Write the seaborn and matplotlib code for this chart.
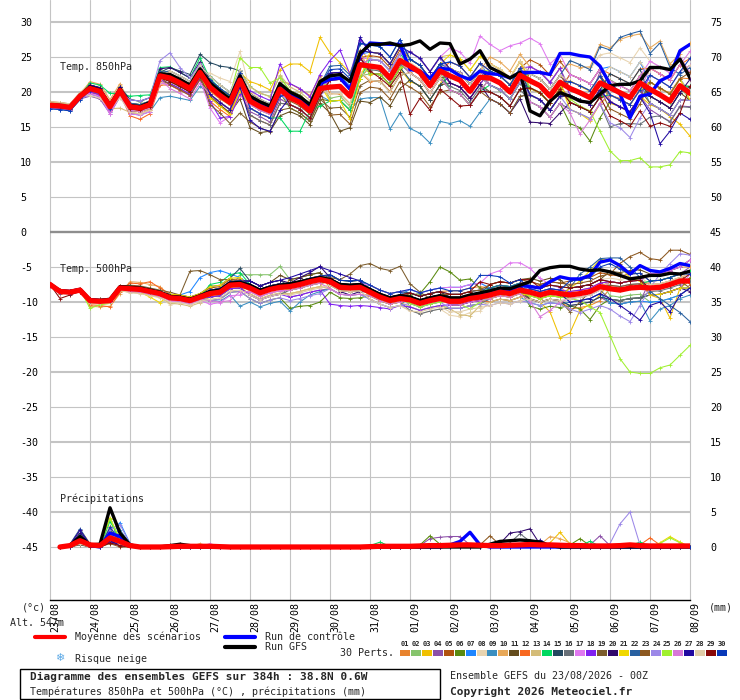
import matplotlib
matplotlib.use("Agg")
import matplotlib.pyplot as plt
import numpy as np
import pandas as pd
import seaborn as sns
from matplotlib.patches import Rectangle
from matplotlib.lines import Line2D
from matplotlib.transforms import ScaledTranslation

# ---------------- data ----------------
hours = list(range(0, 385, 6))
day_hours = list(range(0, 385, 24))
day_labels = ["23/08", "24/08", "25/08", "26/08", "27/08", "28/08", "29/08", "30/08", "31/08",
              "01/09", "02/09", "03/09", "04/09", "05/09", "06/09", "07/09", "08/09"]

pert_names = ["%02d" % k for k in range(1, 31)]
pert_colors = ["#E8832E", "#86C46C", "#F0C000", "#8C50A8", "#B0520E", "#5A8A10", "#1E86FF", "#E8D4B0",
               "#3A8EC0", "#E8A858", "#644C1C", "#F86820", "#D4BC78", "#00D860", "#244860", "#687078",
               "#E078F0", "#8020F0", "#7C5C2C", "#30086C", "#F0D800", "#2860A0", "#8C5820", "#9C88E8",
               "#A0F030", "#D878D8", "#2008A0", "#E0CCA8", "#880808", "#0838B8"]

t850_mean = [18.1, 18.0, 17.8, 19.4, 20.5, 20.1, 17.9, 20.2, 17.9, 17.7, 18.2, 22.3, 22.0, 21.3, 20.5, 22.8,
             20.7, 19.5, 18.5, 21.7, 18.7, 17.9, 17.3, 20.4, 19.2, 18.5, 17.3, 20.5, 20.7, 20.8, 19.4, 23.9,
             23.7, 23.5, 22.0, 24.5, 23.7, 22.8, 20.9, 23.0, 22.3, 21.7, 20.1, 22.1, 22.0, 21.3, 20.0, 22.4,
             21.6, 20.9, 19.4, 21.4, 20.5, 19.9, 19.2, 21.3, 20.6, 19.9, 19.2, 21.3, 20.4, 19.6, 18.7, 20.9, 19.8]
t850_ctrl = [18.0, 17.9, 17.7, 19.3, 20.6, 20.2, 17.8, 20.3, 18.0, 17.8, 18.3, 22.4, 22.3, 21.6, 20.8, 23.1,
             21.2, 20.0, 18.8, 22.2, 19.2, 18.2, 17.5, 20.8, 19.8, 19.0, 17.8, 21.2, 21.8, 22.0, 20.4, 25.2,
             27.0, 26.9, 26.8, 26.8, 23.2, 23.0, 22.0, 23.4, 23.2, 22.3, 21.8, 23.0, 22.6, 22.5, 22.0, 22.8,
             22.8, 22.8, 22.5, 25.5, 25.5, 25.2, 25.0, 23.7, 21.1, 19.7, 16.3, 19.4, 19.7, 21.6, 22.3, 25.9, 26.8]
t850_gfs = [18.2, 18.1, 17.8, 19.5, 20.7, 20.3, 18.0, 20.4, 18.1, 17.9, 18.5, 22.6, 22.5, 21.8, 21.0, 23.3,
            21.3, 20.1, 19.0, 22.3, 19.4, 18.6, 18.0, 21.2, 20.0, 19.3, 18.2, 21.5, 22.3, 22.5, 21.5, 25.5,
            26.8, 26.8, 27.0, 26.6, 26.8, 27.3, 26.1, 27.0, 26.9, 24.0, 24.7, 25.9, 23.5, 22.8, 22.0, 22.8,
            17.3, 16.6, 18.7, 19.9, 19.4, 18.7, 18.5, 19.7, 20.9, 21.1, 21.1, 21.6, 23.5, 23.5, 23.2, 24.7, 22.0]
t850_perts = [
    [18.4,18.3,18.0,19.6,20.0,19.5,17.3,19.8,17.0,16.9,17.5,21.4,21.0,20.2,19.6,21.8,20.1,19.0,18.1,21.3,19.8,19.0,18.2,21.5,21.2,20.4,19.5,22.3,19.8,19.7,18.3,22.8,21.5,21.6,20.1,22.4,22.8,21.7,19.8,22.1,23.4,22.6,21.2,23.0,24.1,23.2,22.0,24.3,21.8,20.7,19.3,21.2,18.6,17.8,17.3,19.2,19.5,19.1,18.1,20.4,21.5,20.4,19.9,22.0,21.9],
    [18.0,18.1,17.7,19.5,21.0,20.5,18.5,20.8,19.0,18.6,19.2,23.1,22.4,21.9,21.0,23.2,22.3,21.0,20.0,23.1,20.8,19.8,19.4,22.3,20.1,19.6,18.2,21.6,19.1,19.4,17.9,22.3,22.6,22.6,21.0,23.4,24.6,23.8,22.0,24.0,22.2,21.8,20.0,22.3,21.0,20.2,19.1,21.3,19.5,18.9,17.5,19.3,19.6,18.8,18.3,20.2,21.7,21.0,20.1,22.4,20.3,19.7,18.5,20.8,18.8],
    [18.3,18.2,18.0,19.7,20.2,19.8,17.6,19.9,17.4,17.2,17.8,21.7,22.1,21.2,20.6,22.9,21.8,20.4,19.6,22.7,21.5,21.0,20.3,23.2,24.0,24.0,22.9,27.8,25.6,24.2,22.8,26.0,22.5,22.6,21.0,23.3,21.5,20.9,18.8,21.1,23.4,22.6,21.2,23.0,22.1,21.2,20.2,22.3,20.5,19.8,18.4,20.6,21.6,20.8,20.1,22.3,18.4,17.9,17.0,19.4,18.2,17.6,16.5,15.4,13.7],
    [17.8,17.6,17.5,19.0,19.4,19.0,16.9,19.3,17.3,17.3,17.7,21.9,22.6,21.7,21.0,23.3,19.6,18.6,17.4,20.8,17.2,16.5,15.7,19.0,18.2,17.6,16.2,19.6,20.9,20.7,19.5,24.0,24.6,24.5,23.1,25.4,25.8,24.7,22.9,24.9,23.2,22.8,21.1,23.0,21.0,20.4,19.0,21.3,23.7,22.8,21.3,23.4,20.4,20.0,19.1,22.9,18.7,17.8,17.2,19.4,17.5,16.6,15.8,18.0,17.9],
    [18.6,18.5,18.3,19.9,20.8,20.4,18.2,20.5,17.7,17.5,18.0,22.1,21.5,20.8,20.0,22.3,19.2,18.0,17.0,20.2,16.7,15.9,15.3,18.4,18.2,17.5,16.3,19.5,21.7,21.8,20.4,24.9,25.2,25.0,23.5,26.0,23.7,22.8,20.9,23.0,21.3,20.7,19.1,21.1,23.0,22.3,21.0,23.4,24.6,23.9,22.4,24.4,22.5,21.9,21.2,23.3,21.6,20.9,20.2,22.3,23.4,22.6,21.7,23.9,22.8],
    [17.9,17.8,17.6,19.2,21.0,20.6,18.4,20.7,18.2,18.0,18.5,22.6,21.7,21.0,20.2,22.5,21.2,20.0,19.0,22.2,18.2,17.4,16.8,19.9,17.7,17.0,15.8,19.0,18.7,18.8,17.4,21.9,23.7,23.5,22.0,24.5,22.7,21.8,19.9,22.0,20.3,19.7,18.1,20.1,22.0,21.3,20.0,22.4,18.6,17.9,16.4,18.4,15.5,14.9,13.0,16.3,18.6,17.9,17.2,19.3,20.4,19.6,18.7,20.9,20.8],
    [17.7,17.6,17.4,19.0,19.7,19.3,17.1,19.4,17.6,17.4,17.9,22.0,22.2,21.5,20.7,23.0,21.7,20.5,19.5,22.7,19.2,18.4,17.8,20.9,19.7,19.0,17.8,21.0,22.2,22.3,20.9,25.4,25.7,25.5,24.0,26.5,24.7,23.8,21.9,24.0,24.3,23.7,22.1,24.1,22.0,21.3,20.0,22.4,20.6,19.9,18.4,20.4,22.5,21.9,21.2,23.3,23.6,22.9,22.2,24.3,21.4,20.6,19.7,21.9,19.8],
    [18.6,18.5,18.3,19.9,21.3,20.9,18.7,21.0,18.4,18.2,18.7,22.8,22.0,21.3,20.5,22.8,22.7,22.0,21.5,25.8,20.2,19.0,18.3,21.4,19.2,18.5,17.3,20.5,19.7,19.8,18.4,22.9,23.2,23.0,21.5,24.0,24.2,23.3,21.4,23.5,24.3,23.7,22.1,24.1,23.0,22.3,21.0,23.4,22.6,21.9,20.4,22.4,24.5,23.9,23.2,25.3,25.6,24.9,24.2,26.3,24.4,23.6,22.7,24.9,22.8],
    [17.6,17.5,17.3,18.9,20.0,19.6,17.4,19.7,16.9,16.7,17.2,19.2,19.4,19.1,18.8,20.8,19.7,18.5,17.5,20.7,18.7,17.9,17.3,20.4,18.2,17.5,16.3,19.5,18.7,18.8,17.4,19.0,19.2,19.2,14.7,17.0,14.8,14.1,12.7,15.8,15.5,15.9,15.1,17.1,19.0,18.3,17.0,19.4,19.6,18.9,17.4,19.4,19.5,18.9,18.2,20.3,20.6,19.9,19.2,21.3,18.4,17.6,16.7,18.9,18.8],
    [18.3,18.2,18.0,19.6,21.5,21.1,18.9,21.2,18.4,18.2,18.7,22.8,23.0,22.3,21.5,23.8,20.7,19.5,18.5,21.7,17.7,16.9,16.3,19.4,20.2,19.5,18.3,21.5,22.7,22.8,21.4,25.9,24.7,24.5,23.0,25.5,25.7,24.8,22.9,25.0,23.3,22.7,21.1,23.1,25.0,24.3,23.0,25.4,23.6,22.9,21.4,23.4,24.0,23.5,23.6,26.8,26.3,27.5,28.0,28.3,26.3,27.3,24.0,25.5,27.0],
    [18.0,17.9,17.6,19.2,20.1,19.7,17.5,19.8,17.4,17.2,17.7,21.6,21.2,20.5,19.6,21.9,19.4,18.2,17.0,19.0,14.9,14.2,14.4,16.6,17.2,16.6,15.3,18.4,17.0,14.4,14.9,18.7,18.5,19.3,18.0,20.5,21.7,20.8,18.9,21.0,21.3,20.7,19.1,21.1,20.0,19.3,18.0,20.4,20.6,19.9,18.4,20.4,21.5,20.9,20.2,22.3,20.6,19.9,19.2,21.3,19.4,18.6,17.7,19.9,18.8],
    [17.8,17.7,17.5,19.1,20.0,19.6,17.4,19.7,16.6,16.1,16.9,21.0,21.0,20.3,19.5,21.8,18.7,17.5,16.5,19.7,17.7,16.9,16.3,19.4,20.2,19.5,18.3,21.5,20.7,20.8,19.4,23.9,22.7,22.5,21.0,23.5,23.7,22.8,20.9,23.0,24.3,23.7,22.1,24.1,23.0,22.3,21.0,23.4,20.6,19.9,18.4,20.4,22.5,21.9,21.2,23.3,22.6,21.9,21.2,23.3,23.4,22.6,21.7,23.9,24.8],
    [18.5,18.4,18.2,19.8,20.2,19.8,17.6,17.7,17.1,16.9,17.4,21.5,23.0,22.3,21.5,23.8,21.7,20.5,19.5,22.7,20.7,19.9,19.3,22.4,20.7,20.0,18.8,22.0,18.7,18.8,17.4,21.9,23.7,23.5,22.0,24.5,25.7,24.8,22.9,25.0,25.3,24.7,23.1,25.1,24.0,23.3,22.0,24.4,22.6,21.9,20.4,22.4,20.5,19.9,19.2,21.3,19.6,18.9,18.2,20.3,21.4,20.6,19.7,21.9,19.8],
    [18.1,18.0,17.8,19.4,21.3,21.0,19.8,19.8,19.4,19.5,19.6,23.5,23.6,22.8,22.0,24.9,21.9,20.5,19.4,22.6,17.7,16.9,16.3,16.3,14.4,14.4,17.3,18.0,18.7,18.8,17.4,21.9,24.7,24.5,23.0,25.5,23.7,22.8,20.9,23.0,20.3,19.7,18.1,20.1,21.0,20.3,19.0,21.4,20.6,19.9,18.4,20.4,18.5,17.9,17.2,19.3,19.6,18.9,18.2,20.3,20.4,19.6,18.7,20.9,20.8],
    [17.9,17.8,17.6,19.2,20.5,20.1,17.9,20.2,18.4,18.2,18.7,22.8,23.5,23.0,22.5,25.4,24.2,23.7,23.5,23.0,19.7,18.9,18.3,21.4,19.2,18.5,17.3,20.5,21.7,21.8,20.4,24.9,22.7,22.5,21.0,23.5,21.7,20.8,18.9,21.0,22.3,21.7,20.1,22.1,23.0,22.3,21.0,23.4,19.6,18.9,17.4,19.4,19.5,18.9,18.2,20.3,22.6,21.9,21.2,23.3,19.4,18.6,17.7,19.9,20.8],
    [18.3,18.2,18.0,19.6,20.3,19.9,17.7,20.0,17.9,17.7,18.2,22.3,21.5,20.8,20.0,22.3,19.7,18.5,17.5,20.7,16.7,15.9,15.3,18.4,18.2,17.5,16.3,19.5,21.7,21.8,20.4,24.9,23.2,23.0,21.5,24.0,22.7,21.8,19.9,22.0,20.8,20.2,18.6,20.6,20.0,19.3,18.0,20.4,18.6,17.9,16.4,18.4,17.5,16.9,16.2,18.3,15.0,15.5,15.5,15.4,16.4,16.6,15.7,17.9,17.8],
    [17.9,17.8,17.6,19.2,19.8,19.4,16.8,19.5,16.9,16.7,17.2,21.3,21.0,20.3,19.5,21.8,17.7,15.6,16.5,19.7,17.7,16.9,16.3,19.4,19.2,18.5,17.3,20.5,21.7,21.8,20.4,24.9,24.7,24.5,23.0,25.5,25.7,24.8,22.9,25.0,26.3,25.7,24.1,28.0,26.8,25.9,26.6,27.0,27.7,26.9,24.0,25.4,22.5,21.9,21.2,23.3,21.6,20.9,20.2,22.3,24.4,23.6,22.7,24.9,22.8],
    [18.1,18.0,17.8,19.4,20.0,19.6,17.4,19.7,17.4,17.2,17.7,21.8,21.2,20.5,19.7,22.0,18.7,16.3,16.5,19.7,20.2,19.4,18.8,24.0,21.2,20.5,19.3,22.5,24.5,26.0,22.5,27.5,25.7,25.5,24.0,26.5,23.7,22.8,20.9,23.0,21.3,20.7,19.1,21.1,23.0,22.3,21.0,23.4,23.6,22.9,21.4,23.4,19.5,18.9,18.2,20.3,18.6,17.9,17.2,19.3,22.4,21.6,20.7,22.9,23.8],
    [18.4,18.3,18.1,19.7,21.0,20.6,18.4,20.7,17.9,17.7,18.2,22.3,21.5,20.8,20.0,22.3,18.2,17.0,15.5,17.0,15.7,14.9,14.3,17.4,17.7,17.0,15.8,19.0,17.7,17.8,16.4,20.9,21.7,21.5,20.0,22.5,22.7,21.8,19.9,22.0,22.3,21.7,20.1,22.1,21.0,20.3,19.0,21.4,22.6,21.9,20.4,22.4,20.5,19.9,19.2,21.3,19.6,18.9,18.2,20.3,18.4,17.6,16.7,18.9,18.8],
    [18.1,18.0,17.8,19.4,21.0,20.6,18.4,20.7,18.9,18.7,19.2,23.3,23.5,22.8,22.0,24.3,21.7,20.5,19.5,22.7,18.7,17.9,17.3,20.4,20.2,19.5,18.3,21.5,22.7,22.8,21.4,25.9,25.7,25.5,24.0,26.5,24.7,23.8,21.9,24.0,21.3,20.7,19.1,21.1,19.0,18.3,17.0,19.0,15.7,15.6,15.5,17.0,18.5,17.9,17.2,19.3,20.6,19.9,19.2,21.3,19.4,18.6,17.7,19.9,21.8],
    [18.3,18.2,18.0,19.6,20.5,20.1,17.9,20.2,17.4,17.2,17.7,21.8,22.0,21.3,20.5,22.8,19.2,18.0,16.8,20.2,18.2,17.4,16.8,19.9,19.7,19.0,17.8,21.0,18.7,18.8,16.1,21.9,25.7,25.5,24.0,26.5,24.7,23.8,21.9,24.0,25.3,24.7,23.1,25.1,24.0,23.3,22.0,24.4,21.6,20.9,19.4,21.4,17.5,16.9,15.9,18.3,19.6,18.9,18.2,20.3,21.4,20.6,19.7,21.9,18.8],
    [17.8,17.7,17.5,19.1,20.3,19.9,17.7,20.0,18.4,18.2,18.7,22.8,23.0,22.3,21.5,23.8,22.2,21.0,20.0,23.2,19.7,18.9,18.3,21.4,19.7,19.0,17.8,21.0,23.7,23.8,22.4,26.9,26.7,26.5,25.0,27.5,24.7,23.8,21.9,24.0,23.3,22.7,21.1,23.1,22.0,21.3,20.0,22.4,22.6,21.9,20.4,22.4,24.5,23.9,23.2,26.5,26.0,27.8,28.3,28.7,25.5,27.0,23.5,22.5,23.5],
    [18.2,18.1,17.9,19.5,20.8,20.4,18.2,20.5,17.7,17.5,18.0,22.1,21.0,20.3,19.5,21.8,19.7,18.5,17.5,20.7,19.2,18.4,17.8,20.9,18.7,18.0,16.8,20.0,16.7,16.8,15.4,19.9,20.7,20.5,19.0,21.5,20.7,19.8,17.9,20.0,20.3,19.7,18.1,20.1,19.0,18.3,17.0,19.4,19.6,18.9,17.4,19.4,19.5,18.9,18.2,20.3,17.6,16.9,16.2,18.3,21.4,20.6,19.7,21.9,22.8],
    [18.0,17.9,17.7,19.3,20.2,19.8,17.6,19.9,18.9,18.7,19.2,24.5,25.6,23.5,22.0,24.0,20.7,19.5,18.5,21.7,18.2,17.4,16.8,19.9,18.2,17.5,16.3,19.5,20.7,20.8,19.4,23.9,24.7,24.5,23.0,25.5,25.7,24.8,22.9,25.0,22.3,21.7,20.1,22.1,21.0,20.3,19.0,21.4,19.6,18.9,17.4,19.4,17.5,16.9,16.2,18.3,15.6,14.9,13.5,16.3,18.4,17.6,16.7,18.9,18.8],
    [18.2,18.1,17.9,19.5,20.7,20.3,18.1,20.4,18.2,18.0,18.5,22.6,22.5,21.8,21.0,23.3,21.5,20.5,19.5,24.9,23.5,23.5,21.3,22.0,20.2,19.5,18.3,21.5,20.7,20.8,19.4,23.9,22.7,22.5,21.0,23.5,23.7,22.8,20.9,23.0,23.3,22.7,21.1,23.1,23.0,22.3,21.0,23.4,20.6,19.9,18.4,20.4,19.0,18.0,17.3,14.4,11.6,10.2,10.2,10.6,9.3,9.3,9.6,11.5,11.3],
    [17.7,17.6,17.4,19.0,19.7,19.3,17.1,19.4,17.4,17.2,17.7,21.8,20.5,19.8,19.0,21.3,19.7,18.5,17.5,20.7,18.2,17.4,16.8,19.9,19.7,19.0,17.8,21.0,21.7,21.8,20.4,24.9,23.7,23.5,22.0,24.5,22.7,21.8,19.9,22.0,20.3,19.7,18.1,20.1,22.0,21.3,20.0,22.4,18.6,17.9,16.4,18.4,17.0,14.0,16.0,18.5,19.6,18.9,18.2,20.3,23.4,22.6,21.7,23.9,25.8],
    [17.9,17.8,17.6,19.2,21.0,20.6,18.4,20.7,17.9,17.7,18.2,22.3,22.5,21.8,21.0,23.3,19.7,18.5,17.5,20.7,16.0,14.8,14.4,17.4,19.2,18.5,17.3,20.5,22.7,22.8,21.4,27.8,25.7,25.5,24.0,26.5,25.7,24.8,22.9,25.0,23.3,22.7,21.1,23.1,22.0,21.3,20.0,22.4,19.6,18.9,17.4,19.4,19.5,18.9,18.2,20.3,18.6,17.9,17.2,19.3,17.0,12.6,14.4,17.0,16.1],
    [18.4,18.3,18.1,19.7,19.5,19.1,17.6,19.2,17.1,16.9,17.4,21.5,23.0,22.3,21.5,23.8,22.2,21.0,20.0,23.2,19.7,18.9,18.3,21.4,19.2,18.5,17.3,20.5,19.7,19.8,18.4,22.9,21.7,21.5,20.0,22.5,22.7,21.8,19.9,22.0,23.3,22.7,21.1,23.1,24.0,23.3,22.0,24.4,22.6,21.9,20.4,22.4,21.5,20.9,20.2,22.3,23.6,22.9,22.2,24.3,22.4,21.6,20.7,22.9,23.8],
    [18.1,18.0,17.8,19.4,20.8,20.4,18.2,20.5,17.6,17.4,17.9,22.0,21.5,20.8,20.0,22.3,20.7,19.5,18.5,21.7,19.2,18.4,17.8,20.9,18.2,17.5,16.3,19.5,21.7,21.8,20.4,24.9,23.0,22.0,20.8,22.8,16.8,19.1,17.4,20.4,19.2,18.0,18.1,20.1,20.0,19.3,18.0,20.4,20.6,19.9,18.4,20.4,18.5,17.9,17.2,19.3,16.6,15.9,15.1,17.3,15.1,15.6,15.1,17.0,20.8],
    [17.6,17.5,17.3,18.9,20.2,19.8,17.6,19.9,18.2,18.0,18.5,22.6,22.5,21.8,21.0,23.3,21.7,20.5,19.5,22.7,17.7,16.9,16.3,19.4,19.7,19.0,17.8,21.0,23.2,23.3,21.9,27.0,26.7,26.5,25.0,27.5,24.7,23.8,21.9,24.0,24.3,23.7,22.1,24.1,23.0,22.3,21.0,23.4,21.6,20.9,19.4,21.4,21.5,20.9,20.2,22.3,19.6,18.9,18.2,20.3,22.4,21.6,20.7,22.9,24.8],
]

t500_mean = [-7.5, -8.5, -8.6, -8.3, -9.8, -9.9, -9.8, -8.0, -8.1, -8.2, -8.5, -8.8, -9.4, -9.5, -9.8, -9.3,
             -8.8, -8.6, -7.6, -7.5, -8.0, -8.7, -8.2, -7.9, -7.8, -7.5, -7.1, -6.8, -7.1, -7.9, -8.0, -7.9,
             -8.6, -9.3, -9.8, -9.5, -9.7, -10.2, -9.8, -9.5, -9.9, -9.9, -9.5, -9.3, -9.0, -8.6, -8.8, -8.3,
             -8.6, -9.0, -8.6, -8.8, -9.0, -8.8, -8.5, -7.8, -8.1, -8.3, -8.0, -7.9, -8.0, -7.9, -7.5, -7.0, -7.0]
t500_ctrl = [-7.5, -8.4, -8.5, -8.2, -9.7, -9.8, -9.7, -7.9, -8.0, -8.1, -8.4, -8.7, -9.3, -9.4, -9.7, -9.2,
             -8.6, -8.4, -7.4, -7.3, -7.8, -8.5, -8.0, -7.7, -7.5, -7.3, -6.9, -6.6, -6.9, -7.6, -7.7, -7.6,
             -8.3, -9.0, -9.6, -9.3, -9.4, -9.9, -9.6, -9.2, -9.5, -9.6, -9.2, -8.9, -8.6, -8.2, -8.4, -7.6,
             -7.8, -8.0, -7.1, -6.4, -6.7, -6.7, -6.2, -4.3, -4.0, -4.8, -6.0, -4.8, -5.5, -5.7, -5.2, -4.5, -4.8]
t500_gfs = [-7.4, -8.4, -8.5, -8.2, -9.7, -9.8, -9.6, -7.8, -7.9, -8.0, -8.3, -8.6, -9.2, -9.3, -9.6, -9.1,
            -8.5, -8.3, -7.3, -7.2, -7.6, -8.3, -7.9, -7.6, -7.4, -7.1, -6.8, -6.5, -6.8, -7.5, -7.6, -7.5,
            -8.2, -8.9, -9.4, -9.1, -9.3, -9.8, -9.4, -9.1, -9.4, -9.4, -9.0, -8.7, -8.4, -8.0, -8.1, -7.6,
            -7.1, -5.5, -5.1, -4.9, -4.9, -5.3, -5.5, -5.4, -5.7, -6.2, -6.7, -6.5, -6.2, -6.2, -5.9, -6.0, -5.6]
t500_perts = [
    [-7.4,-8.4,-8.6,-8.2,-9.6,-9.7,-9.6,-7.8,-8.4,-8.5,-8.8,-9.1,-9.7,-9.8,-10.1,-9.6,-8.3,-8.1,-7.1,-7.0,-8.5,-9.2,-8.7,-8.4,-6.8,-6.5,-6.1,-5.8,-8.1,-8.9,-9.0,-8.9,-9.1,-9.8,-10.3,-10.0,-8.7,-9.2,-8.8,-8.5,-8.4,-8.4,-8.0,-7.8,-8.0,-7.6,-7.8,-7.3,-9.6,-10.0,-9.6,-9.8,-11.0,-10.8,-10.5,-9.8,-8.1,-8.3,-8.0,-7.9,-7.0,-6.9,-6.5,-6.0,-5.5],
    [-7.6,-8.7,-8.8,-8.5,-10.0,-10.1,-10.0,-8.2,-8.1,-8.2,-8.5,-8.8,-9.2,-9.3,-9.6,-9.1,-9.3,-9.1,-8.1,-6.1,-6.1,-6.1,-6.1,-4.9,-6.8,-6.5,-6.1,-5.8,-7.1,-7.9,-8.0,-7.9,-7.6,-8.3,-8.8,-8.5,-10.7,-11.2,-10.8,-10.5,-10.9,-10.9,-10.5,-10.3,-9.0,-8.6,-8.8,-8.3,-7.6,-8.0,-7.6,-7.8,-8.0,-7.8,-7.5,-6.8,-9.1,-9.3,-9.0,-8.9,-10.0,-9.9,-9.5,-9.0,-8.0],
    [-7.4,-8.3,-8.4,-8.1,-9.6,-9.7,-9.6,-7.8,-8.1,-8.2,-8.5,-8.8,-9.6,-9.7,-10.0,-9.5,-9.1,-8.9,-7.9,-7.8,-9.0,-9.7,-9.2,-8.9,-8.8,-8.5,-8.1,-7.8,-6.1,-6.9,-7.0,-6.9,-8.6,-9.3,-9.8,-9.5,-9.2,-9.7,-9.3,-9.0,-10.4,-10.4,-10.0,-9.8,-9.5,-9.1,-9.3,-8.8,-9.5,-10.0,-11.4,-15.1,-14.4,-11.2,-10.3,-9.0,-7.1,-7.3,-7.0,-6.9,-9.0,-9.5,-12.3,-8.0,-7.0],
    [-7.3,-8.3,-8.4,-8.1,-9.8,-9.9,-9.8,-8.0,-7.8,-7.9,-8.2,-8.5,-9.4,-9.5,-9.8,-9.3,-8.3,-8.1,-7.1,-7.0,-8.0,-8.7,-8.2,-7.9,-9.3,-9.0,-8.6,-8.3,-8.1,-8.9,-9.0,-8.9,-9.1,-9.8,-10.3,-10.0,-9.7,-10.2,-9.8,-9.5,-8.9,-8.9,-8.5,-8.3,-9.0,-8.6,-8.8,-8.3,-9.6,-10.0,-9.6,-9.8,-10.5,-10.3,-10.0,-9.3,-10.1,-10.3,-10.0,-9.9,-7.0,-6.9,-6.5,-6.0,-5.0],
    [-7.7,-8.8,-8.8,-8.5,-10.1,-10.2,-10.1,-8.3,-8.3,-8.4,-8.7,-9.0,-9.1,-9.2,-9.5,-9.0,-8.0,-7.8,-6.8,-6.7,-7.5,-8.2,-7.7,-7.4,-7.3,-7.0,-6.6,-6.3,-6.1,-6.9,-7.0,-6.9,-8.1,-8.8,-9.3,-9.0,-8.7,-9.2,-8.8,-8.5,-9.9,-9.9,-9.5,-9.3,-8.0,-7.6,-7.8,-7.3,-7.1,-7.5,-7.1,-7.3,-7.0,-6.8,-6.5,-5.8,-6.1,-6.3,-6.0,-5.9,-7.0,-6.9,-6.5,-6.0,-7.5],
    [-7.5,-8.5,-8.6,-8.3,-9.6,-9.7,-9.6,-7.8,-8.4,-8.5,-8.8,-9.1,-9.8,-9.9,-10.2,-9.7,-9.8,-9.6,-8.6,-8.5,-9.5,-10.2,-9.7,-9.4,-10.9,-10.6,-10.5,-10.0,-8.6,-9.4,-9.5,-9.4,-9.1,-9.8,-10.3,-10.0,-9.0,-8.8,-7.1,-5.0,-5.7,-6.9,-6.7,-8.0,-9.0,-8.6,-8.8,-8.3,-10.6,-11.0,-10.6,-10.8,-10.5,-11.0,-12.5,-10.5,-9.6,-9.8,-9.5,-9.4,-9.0,-8.9,-8.5,-8.0,-6.5],
    [-7.6,-8.6,-8.7,-8.4,-9.7,-9.8,-9.7,-7.9,-8.1,-8.2,-8.5,-8.8,-9.2,-9.0,-8.5,-6.5,-5.8,-5.5,-6.0,-6.5,-7.5,-8.2,-7.7,-7.4,-8.3,-8.0,-7.6,-7.3,-6.1,-6.9,-7.0,-6.9,-8.1,-8.8,-9.3,-9.0,-8.2,-8.7,-8.3,-8.0,-7.9,-7.9,-7.5,-7.3,-8.0,-7.6,-7.8,-7.3,-8.6,-9.0,-8.6,-8.8,-10.0,-9.8,-9.5,-8.8,-10.1,-10.3,-10.0,-9.9,-10.0,-9.9,-9.5,-9.0,-8.0],
    [-7.3,-8.3,-8.4,-8.1,-10.0,-10.1,-10.0,-8.2,-8.6,-8.7,-9.0,-9.3,-10.4,-10.0,-10.3,-9.8,-9.3,-9.1,-8.1,-8.0,-9.0,-9.7,-9.2,-8.9,-8.8,-8.5,-8.1,-7.8,-7.6,-8.4,-8.5,-8.4,-9.6,-10.3,-10.8,-10.5,-11.2,-11.7,-11.3,-11.0,-11.9,-12.1,-11.5,-11.3,-10.0,-9.6,-9.8,-9.3,-8.6,-9.0,-8.6,-8.8,-8.0,-7.8,-7.5,-6.8,-6.6,-6.8,-6.5,-6.4,-7.5,-7.4,-7.0,-6.5,-6.0],
    [-7.5,-8.5,-8.6,-8.3,-9.8,-9.9,-9.8,-8.0,-7.9,-8.0,-8.3,-8.6,-9.7,-9.8,-10.1,-9.6,-9.8,-9.9,-9.0,-10.6,-10.0,-10.7,-10.2,-9.9,-11.3,-10.0,-9.0,-8.5,-8.1,-8.9,-9.0,-8.9,-9.6,-10.3,-10.8,-10.5,-9.2,-9.7,-9.3,-9.0,-9.9,-9.9,-9.5,-9.3,-10.0,-9.6,-9.8,-9.3,-10.1,-10.5,-10.1,-10.3,-10.0,-9.8,-9.5,-8.8,-10.1,-10.3,-10.0,-9.9,-12.7,-11.0,-10.5,-9.5,-9.0],
    [-7.4,-8.4,-8.5,-8.2,-10.6,-10.7,-10.6,-8.8,-7.1,-7.2,-7.5,-7.8,-9.1,-9.2,-9.5,-9.0,-8.8,-8.6,-7.6,-7.5,-8.5,-9.2,-8.7,-8.4,-7.8,-7.5,-7.1,-6.8,-6.6,-7.4,-7.5,-7.4,-8.6,-9.3,-9.8,-9.5,-10.2,-10.7,-10.3,-10.0,-9.9,-9.9,-9.5,-9.3,-8.5,-8.1,-8.3,-7.8,-7.6,-8.0,-7.6,-7.8,-9.0,-8.8,-8.5,-7.8,-7.1,-7.3,-7.0,-6.9,-6.0,-5.9,-5.5,-5.0,-5.0],
    [-7.5,-8.5,-8.6,-8.3,-9.5,-9.6,-9.5,-7.7,-8.1,-8.2,-8.5,-8.8,-9.6,-9.7,-10.0,-9.5,-8.3,-8.1,-7.1,-7.0,-7.0,-7.7,-7.2,-6.2,-6.8,-6.5,-6.1,-5.8,-7.6,-8.4,-8.5,-8.4,-8.6,-9.3,-9.8,-9.5,-8.7,-9.2,-8.8,-8.5,-9.4,-9.4,-9.0,-8.8,-7.5,-7.1,-7.3,-6.8,-6.6,-7.0,-6.6,-6.8,-8.0,-7.8,-7.5,-6.8,-5.6,-5.8,-5.5,-5.4,-6.0,-5.9,-5.5,-5.0,-4.0],
    [-7.6,-8.6,-8.7,-8.4,-10.4,-10.5,-10.7,-8.6,-7.3,-7.4,-7.1,-8.0,-8.9,-9.0,-9.3,-8.8,-9.3,-9.1,-8.1,-8.0,-8.0,-8.7,-8.2,-7.9,-8.3,-8.0,-7.6,-7.3,-7.1,-7.9,-8.0,-7.9,-8.1,-8.8,-9.3,-9.0,-9.7,-10.2,-9.8,-9.5,-10.4,-10.4,-10.0,-9.8,-10.0,-9.6,-9.8,-9.3,-8.6,-9.0,-8.6,-8.8,-8.5,-8.3,-8.0,-7.3,-7.1,-7.3,-7.0,-6.9,-7.5,-7.4,-7.0,-6.5,-6.0],
    [-7.4,-8.4,-8.5,-8.2,-10.2,-10.3,-10.2,-8.4,-8.6,-8.7,-9.0,-9.3,-10.2,-10.3,-10.6,-10.1,-9.3,-9.1,-8.1,-8.0,-8.8,-9.5,-9.0,-8.7,-8.8,-8.5,-8.1,-7.8,-8.1,-8.9,-9.0,-8.9,-9.1,-9.8,-10.3,-10.0,-10.7,-11.2,-10.8,-10.5,-11.0,-11.8,-12.0,-10.5,-10.0,-9.6,-9.8,-9.3,-9.1,-9.5,-9.1,-9.3,-9.0,-8.8,-8.5,-7.8,-7.1,-7.3,-7.0,-6.9,-7.5,-7.4,-7.0,-6.5,-7.0],
    [-7.5,-8.5,-8.6,-8.3,-9.6,-9.7,-9.6,-7.8,-8.3,-8.4,-8.7,-9.0,-9.4,-9.5,-9.8,-9.3,-7.5,-7.2,-6.1,-5.8,-7.5,-8.2,-7.7,-7.4,-7.8,-7.5,-7.1,-6.8,-6.6,-7.4,-7.5,-7.4,-8.1,-8.8,-9.3,-9.0,-10.2,-10.7,-10.3,-10.0,-9.4,-9.4,-9.0,-8.8,-8.0,-7.6,-7.8,-7.3,-8.1,-8.5,-8.1,-8.3,-9.0,-8.8,-8.5,-7.8,-7.6,-7.8,-7.5,-7.4,-7.0,-6.9,-6.5,-6.0,-5.5],
    [-7.6,-8.6,-8.7,-8.4,-9.8,-9.9,-9.8,-8.0,-7.8,-7.9,-8.2,-8.5,-8.9,-9.0,-9.3,-8.8,-7.8,-7.6,-6.6,-5.2,-7.0,-7.7,-7.2,-6.9,-7.8,-7.5,-7.1,-6.8,-6.1,-6.9,-7.0,-6.9,-7.6,-8.3,-8.8,-8.5,-8.7,-9.2,-8.8,-8.5,-9.4,-9.4,-9.0,-8.8,-9.0,-8.6,-8.8,-8.3,-9.6,-10.0,-9.6,-9.8,-10.5,-10.3,-10.0,-9.3,-9.6,-9.8,-9.5,-9.4,-9.0,-8.9,-8.5,-8.0,-8.0],
    [-7.4,-8.4,-8.5,-8.2,-9.8,-9.9,-9.8,-8.0,-8.4,-8.5,-8.8,-9.1,-9.7,-9.8,-10.1,-9.6,-9.3,-9.1,-8.1,-8.0,-9.0,-9.7,-9.2,-8.9,-8.3,-8.0,-7.6,-7.3,-7.1,-7.9,-8.0,-7.9,-9.1,-9.8,-10.3,-10.0,-11.2,-11.7,-11.3,-11.0,-10.9,-10.9,-10.5,-10.3,-9.5,-9.1,-9.3,-8.8,-8.6,-9.0,-8.6,-8.8,-9.5,-9.3,-9.0,-8.3,-9.6,-9.8,-9.5,-9.4,-8.5,-8.4,-8.0,-7.5,-7.0],
    [-7.5,-8.5,-8.6,-8.3,-10.0,-10.1,-10.0,-8.2,-8.4,-8.5,-8.8,-9.1,-9.9,-10.0,-10.3,-9.8,-10.3,-10.1,-9.1,-9.0,-8.5,-9.2,-8.7,-8.4,-8.3,-8.0,-7.6,-7.3,-6.6,-7.4,-7.5,-7.4,-7.6,-8.3,-8.8,-8.5,-8.2,-8.7,-8.3,-8.0,-7.9,-7.9,-7.5,-7.3,-6.0,-5.5,-4.4,-4.4,-5.2,-6.6,-7.5,-8.0,-9.0,-8.8,-8.5,-7.8,-7.6,-7.8,-7.5,-7.4,-9.0,-8.9,-8.5,-8.0,-6.0],
    [-7.6,-8.6,-8.7,-8.4,-9.8,-9.9,-9.8,-8.0,-8.3,-8.4,-8.7,-9.0,-9.4,-9.5,-9.8,-9.3,-9.3,-9.1,-8.1,-8.0,-9.0,-9.7,-9.2,-8.9,-9.3,-9.0,-8.6,-8.3,-10.3,-10.5,-10.6,-10.5,-10.6,-10.8,-11.0,-10.5,-10.7,-11.2,-10.8,-10.5,-10.4,-10.4,-10.0,-9.8,-9.0,-8.6,-8.8,-8.3,-8.1,-8.5,-8.1,-8.3,-8.5,-8.3,-8.0,-7.3,-7.1,-7.3,-7.0,-6.9,-6.0,-5.9,-5.5,-5.0,-4.0],
    [-7.5,-8.5,-8.6,-8.3,-9.5,-9.6,-9.5,-7.7,-7.6,-7.7,-8.0,-8.3,-8.6,-9.0,-5.6,-5.5,-6.1,-6.8,-6.8,-7.0,-7.5,-8.2,-7.7,-7.4,-7.8,-7.5,-7.1,-6.8,-6.5,-6.8,-6.0,-4.8,-4.5,-5.2,-5.5,-4.9,-7.4,-8.6,-9.5,-9.0,-9.9,-9.9,-9.5,-9.3,-9.5,-9.1,-9.3,-8.8,-9.6,-10.0,-9.6,-9.8,-11.4,-10.0,-8.5,-7.8,-7.6,-7.8,-7.5,-7.4,-8.0,-7.9,-7.5,-7.0,-8.0],
    [-7.5,-8.5,-8.6,-8.3,-9.8,-9.9,-9.8,-8.0,-7.9,-8.0,-8.3,-8.6,-9.4,-9.5,-9.8,-9.3,-8.3,-8.1,-7.1,-7.0,-7.0,-7.7,-7.2,-6.9,-7.3,-6.5,-5.8,-4.9,-6.5,-8.5,-9.0,-8.5,-8.6,-9.3,-9.8,-9.5,-9.2,-9.7,-9.3,-9.0,-10.4,-10.4,-10.0,-9.8,-9.0,-8.6,-8.8,-8.3,-9.1,-9.5,-9.1,-9.3,-8.0,-7.8,-7.5,-6.8,-7.1,-7.3,-7.0,-6.9,-9.0,-8.9,-8.5,-8.0,-8.5],
    [-7.4,-8.4,-8.5,-8.2,-9.7,-9.8,-9.7,-7.9,-8.4,-8.6,-9.3,-10.1,-8.9,-9.0,-9.3,-8.8,-7.8,-7.6,-6.6,-6.5,-8.0,-8.7,-8.2,-7.9,-7.3,-7.0,-6.6,-6.3,-7.1,-7.9,-8.0,-7.9,-9.1,-9.8,-10.3,-10.0,-9.7,-10.2,-9.8,-9.5,-9.9,-9.9,-9.5,-9.3,-9.5,-9.1,-9.3,-8.8,-9.1,-9.5,-9.1,-9.3,-8.0,-7.0,-5.5,-3.9,-4.0,-5.0,-6.5,-7.0,-9.0,-8.9,-8.5,-8.0,-8.0],
    [-7.5,-8.5,-8.6,-8.3,-9.9,-10.0,-9.9,-8.1,-8.1,-8.2,-8.5,-8.8,-9.2,-9.3,-9.6,-9.1,-8.3,-8.1,-7.1,-7.0,-7.5,-8.2,-7.7,-7.4,-7.3,-7.0,-6.6,-6.3,-6.6,-7.4,-7.5,-7.4,-8.1,-8.8,-9.3,-9.0,-8.7,-9.2,-8.8,-8.5,-8.9,-8.9,-8.5,-8.3,-8.0,-7.6,-7.8,-7.3,-7.6,-8.0,-7.6,-7.8,-8.0,-6.0,-5.0,-3.8,-3.7,-3.7,-5.0,-6.5,-8.5,-9.5,-10.5,-11.5,-12.8],
    [-7.4,-8.3,-8.4,-8.1,-9.6,-9.7,-9.6,-7.8,-7.8,-7.9,-8.2,-8.5,-9.1,-9.2,-9.5,-9.0,-8.8,-8.6,-7.6,-7.5,-7.5,-8.2,-7.7,-7.4,-7.3,-7.0,-6.6,-6.3,-6.6,-7.4,-7.5,-7.4,-8.1,-8.8,-9.3,-9.0,-9.2,-9.7,-9.3,-9.0,-8.9,-8.9,-8.5,-8.3,-7.5,-7.1,-7.3,-6.8,-7.1,-7.5,-7.1,-7.3,-7.5,-7.3,-7.0,-6.3,-6.0,-4.5,-3.5,-2.9,-3.8,-4.0,-2.6,-2.6,-3.2],
    [-7.7,-8.7,-8.8,-8.5,-9.9,-10.0,-9.9,-8.1,-8.4,-8.5,-8.8,-9.1,-9.7,-9.8,-10.1,-9.6,-9.8,-9.6,-8.6,-8.5,-9.5,-10.2,-9.7,-9.4,-9.8,-9.5,-9.1,-8.8,-8.1,-8.9,-9.0,-8.9,-9.6,-10.3,-10.8,-10.5,-10.2,-10.7,-10.3,-10.0,-10.9,-10.9,-10.5,-10.3,-10.5,-10.1,-10.3,-9.8,-10.1,-10.5,-10.1,-10.3,-11.0,-11.5,-11.0,-10.5,-11.0,-12.0,-12.8,-10.5,-8.0,-6.0,-4.5,-3.1,-3.3],
    [-7.4,-8.4,-8.5,-8.2,-10.9,-10.4,-10.2,-8.3,-7.9,-8.0,-8.3,-8.6,-9.4,-9.5,-9.8,-9.3,-8.3,-8.1,-7.1,-7.0,-8.0,-8.7,-8.2,-7.9,-8.3,-8.0,-7.6,-7.3,-7.1,-7.9,-8.0,-7.9,-8.6,-9.3,-9.8,-9.5,-10.2,-10.7,-10.3,-10.0,-9.9,-10.3,-11.0,-10.0,-9.0,-8.6,-8.8,-8.3,-9.1,-9.5,-9.1,-9.3,-9.5,-9.8,-10.7,-11.5,-14.8,-18.1,-20.0,-20.2,-20.2,-19.4,-19.0,-17.6,-16.2],
    [-7.6,-8.7,-8.8,-8.4,-10.0,-10.1,-10.0,-8.2,-8.5,-8.6,-8.9,-9.2,-9.7,-9.8,-10.1,-9.6,-9.8,-10.0,-9.8,-8.5,-8.5,-9.2,-8.7,-8.4,-8.3,-8.0,-7.6,-7.3,-8.1,-8.9,-9.0,-8.9,-9.1,-9.8,-10.3,-10.0,-9.7,-10.2,-9.8,-9.5,-10.4,-10.4,-10.0,-9.8,-9.5,-9.1,-9.3,-8.8,-9.9,-12.1,-11.2,-10.0,-9.5,-9.3,-9.0,-8.3,-7.1,-7.3,-7.0,-6.9,-6.0,-5.9,-5.5,-5.0,-4.0],
    [-7.5,-8.5,-8.6,-8.3,-9.9,-10.0,-9.9,-8.1,-8.0,-8.1,-8.4,-8.7,-9.2,-9.3,-9.6,-9.1,-8.3,-8.1,-7.1,-7.0,-7.0,-7.7,-7.2,-6.9,-6.5,-6.0,-5.5,-5.0,-5.5,-6.0,-6.5,-7.0,-8.6,-9.3,-9.8,-9.5,-9.2,-9.7,-9.3,-9.0,-9.9,-9.9,-9.5,-9.3,-8.5,-8.1,-8.3,-7.8,-8.6,-9.0,-8.6,-8.8,-10.0,-9.8,-9.5,-8.8,-9.5,-10.5,-11.5,-12.6,-10.5,-10.0,-11.4,-9.0,-8.0],
    [-7.4,-8.4,-8.5,-8.2,-10.1,-10.2,-10.1,-8.3,-8.7,-8.8,-9.1,-9.4,-10.0,-10.1,-10.4,-9.9,-9.6,-9.4,-8.4,-8.3,-9.0,-9.7,-9.2,-8.9,-9.0,-8.7,-8.3,-8.0,-7.6,-8.4,-8.5,-8.4,-9.6,-10.3,-10.8,-10.5,-11.3,-11.4,-11.0,-10.7,-11.4,-11.4,-11.0,-10.8,-10.5,-10.1,-10.3,-9.8,-9.6,-10.0,-9.6,-9.8,-9.5,-9.3,-9.0,-8.3,-8.1,-8.3,-8.0,-7.9,-7.5,-7.4,-7.0,-6.5,-6.0],
    [-7.5,-9.5,-9.0,-8.5,-9.6,-9.7,-9.6,-7.8,-8.1,-8.2,-8.5,-8.8,-9.1,-9.2,-9.5,-9.0,-8.8,-8.6,-7.6,-7.5,-7.5,-8.2,-7.7,-7.4,-7.8,-7.5,-7.1,-6.8,-6.6,-7.4,-7.5,-7.4,-8.1,-8.8,-9.3,-9.0,-8.7,-9.2,-8.8,-8.5,-8.9,-8.9,-8.5,-7.1,-7.5,-7.1,-7.3,-6.8,-6.8,-8.0,-7.6,-7.8,-8.0,-7.8,-7.5,-6.8,-7.1,-7.3,-7.0,-6.9,-8.0,-7.9,-7.5,-7.0,-6.0],
    [-7.6,-8.6,-8.7,-8.4,-9.8,-9.9,-9.8,-8.0,-7.9,-8.0,-8.3,-8.6,-9.2,-9.3,-9.6,-9.1,-8.3,-8.1,-7.1,-7.0,-7.5,-8.2,-7.7,-7.4,-7.3,-7.0,-6.6,-6.3,-6.1,-6.9,-7.0,-6.9,-7.6,-8.3,-8.8,-8.5,-8.2,-8.7,-8.3,-8.0,-8.4,-8.4,-8.0,-6.2,-6.2,-6.4,-7.3,-6.8,-8.1,-8.5,-8.1,-8.3,-7.0,-6.8,-6.5,-5.0,-4.5,-5.3,-6.0,-5.9,-7.0,-6.9,-6.5,-6.0,-6.0],
]

# precipitation (mm), points at 06h ... 384h (index 1..64); members: non-zero steps only
precip_mean = [0.0, 0.2, 0.9, 0.3, 0.2, 1.3, 0.8, 0.2, 0.0, 0.0,
               0.0, 0.05, 0.1, 0.1, 0.1, 0.1, 0.05, 0.0, 0.0, 0.0,
               0.0, 0.0, 0.0, 0.0, 0.0, 0.0, 0.0, 0.0, 0.0, 0.0,
               0.0, 0.05, 0.1, 0.1, 0.1, 0.1, 0.15, 0.2, 0.2, 0.25,
               0.3, 0.3, 0.25, 0.2, 0.2, 0.25, 0.3, 0.35, 0.3, 0.3,
               0.25, 0.2, 0.2, 0.15, 0.15, 0.15, 0.2, 0.3, 0.2, 0.15,
               0.15, 0.15, 0.15, 0.15]
precip_ctrl = {2: 0.2, 3: 1.2, 4: 0.2, 6: 2.0, 7: 1.5, 8: 0.2, 40: 0.3, 41: 0.8, 42: 2.1, 43: 0.3}
precip_gfs = {2: 0.2, 3: 1.5, 4: 0.3, 5: 0.4, 6: 5.6, 7: 2.0, 8: 0.3, 12: 0.2, 13: 0.4, 14: 0.2,
              44: 0.4, 45: 0.8, 46: 0.9, 47: 1.0, 48: 0.9, 49: 0.7, 50: 0.2}
precip_perts = [
    {2: 0.2, 3: 1.5, 4: 0.3, 5: 0.3, 6: 2.0, 7: 0.6, 8: 0.2},
    {2: 0.1, 3: 1.0, 4: 0.2, 6: 1.5, 7: 0.5},
    {3: 0.8, 4: 0.1, 5: 0.4, 6: 4.0, 7: 0.9, 8: 0.3, 50: 0.6, 51: 2.1, 52: 0.4},
    {2: 0.3, 3: 1.2, 6: 1.0, 7: 0.4, 37: 0.2, 38: 1.2, 39: 1.4, 40: 1.5, 41: 1.5, 42: 0.3, 54: 0.3, 55: 1.6, 56: 0.2},
    {3: 0.5, 5: 0.2, 6: 0.8, 7: 0.3},
    {3: 0.7, 6: 2.5, 7: 0.7, 8: 0.2, 37: 0.3, 38: 1.6, 39: 0.4, 52: 0.3, 53: 1.2, 54: 0.2},
    {2: 0.2, 3: 1.0, 4: 0.2, 6: 1.2, 7: 3.5, 8: 0.5},
    {3: 0.6, 6: 1.8, 7: 0.6},
    {3: 0.9, 5: 0.3, 6: 1.5, 7: 2.5, 8: 0.4},
    {3: 1.3, 4: 0.3, 6: 3.0, 7: 0.8, 15: 0.5, 49: 0.3, 50: 1.5, 51: 1.2, 52: 0.6},
    {3: 0.4, 6: 0.6, 7: 0.2},
    {2: 0.4, 3: 2.5, 4: 0.5, 6: 2.2, 7: 0.7, 59: 0.3, 60: 1.3, 61: 0.3},
    {3: 0.5, 6: 1.0, 7: 0.4},
    {2: 0.2, 3: 1.8, 4: 0.3, 6: 3.7, 7: 1.0, 32: 0.2, 33: 0.7, 34: 0.1, 53: 0.2, 54: 0.8, 55: 0.1, 58: 0.2, 59: 0.7, 60: 0.1},
    {3: 1.2, 6: 0.9, 7: 0.3, 13: 0.5},
    {3: 0.3, 6: 1.3, 7: 0.4, 46: 0.6, 47: 1.9, 48: 0.8},
    {3: 0.8, 6: 2.0, 7: 0.6},
    {3: 1.0, 6: 0.7, 7: 0.2},
    {3: 0.5, 6: 1.1, 7: 0.3},
    {2: 0.3, 3: 2.0, 4: 0.4, 6: 1.0, 7: 0.3, 45: 0.5, 46: 2.0, 47: 2.2, 48: 2.6, 49: 0.4},
    {3: 1.4, 5: 0.4, 6: 4.2, 7: 1.0, 8: 0.3, 61: 0.6, 62: 1.5, 63: 0.7},
    {2: 0.4, 3: 2.6, 4: 0.4, 6: 1.5, 7: 1.8, 8: 0.3},
    {3: 0.4, 6: 0.5, 43: 0.3, 44: 1.6, 45: 0.3},
    {3: 0.7, 6: 2.5, 7: 3.2, 8: 0.5, 56: 0.5, 57: 3.3, 58: 5.0, 59: 0.3},
    {3: 1.0, 5: 0.3, 6: 4.0, 7: 1.2, 8: 0.2, 61: 0.5, 62: 1.3, 63: 0.6},
    {3: 0.6, 6: 1.4, 7: 0.5, 16: 0.5},
    {2: 0.3, 3: 2.4, 4: 0.3, 6: 0.8, 7: 0.3, 48: 0.3, 49: 1.0, 50: 0.2},
    {3: 0.5, 6: 1.2, 7: 0.4},
    {3: 0.8, 6: 0.6, 7: 0.2, 12: 0.3},
    {3: 1.6, 4: 0.3, 6: 2.8, 7: 0.9, 8: 0.2},
]

for name, group in [("t850", t850_perts), ("t500", t500_perts)]:
    for k, s in enumerate(group):
        assert len(s) == 65, (name, k + 1, len(s))
for s in [t850_mean, t850_ctrl, t850_gfs, t500_mean, t500_ctrl, t500_gfs]:
    assert len(s) == 65, len(s)
assert len(precip_mean) == 64

# ---------------- figure ----------------
sns.set_theme(style="white")
plt.rcParams["font.family"] = ["DejaVu Sans Mono", "DejaVu Sans"]

W, H = 740, 700
fig = plt.figure(figsize=(W / 100, H / 100), dpi=100)
ax = fig.add_axes([50 / W, 100 / H, 640 / W, 600 / H])
ax.set_xlim(0, 384)
ylo, yhi = -45 - 53 / 7, 30 + 22 / 7
ax.set_ylim(ylo, yhi)
ax.set_facecolor("white")

# grid
for v in range(-45, 31, 5):
    if v == 0:
        continue
    ax.axhline(v, color="#c4c4c4", lw=1.5 if v % 10 == 0 else 0.8, zorder=0.5)
ax.axhline(0, color="#8e8e8e", lw=1.7, zorder=0.6)
for h in day_hours:
    ax.axvline(h, color="#c4c4c4", lw=0.8, zorder=0.5, clip_on=False)


def long_form(series_list, xs):
    rows = []
    for k, s in enumerate(series_list):
        for x, v in zip(xs, s):
            rows.append((pert_names[k], x, v))
    return pd.DataFrame(rows, columns=["member", "hour", "value"])


line_kw = dict(estimator=None, legend=False, lw=0.75, marker="+", markersize=3, mew=0.6, sort=False)

df850 = long_form(t850_perts, hours)
df500 = long_form(t500_perts, hours)
sns.lineplot(data=df850, x="hour", y="value", hue="member", palette=pert_colors, ax=ax, zorder=2, **line_kw)
sns.lineplot(data=df500, x="hour", y="value", hue="member", palette=pert_colors, ax=ax, zorder=2, **line_kw)

for s in (t850_ctrl, t500_ctrl):
    sns.lineplot(x=hours, y=s, color="#0000ff", lw=2.4, ax=ax, zorder=3)
for s in (t850_gfs, t500_gfs):
    sns.lineplot(x=hours, y=s, color="#000000", lw=2.4, ax=ax, zorder=3)
for s in (t850_mean, t500_mean):
    sns.lineplot(x=hours, y=s, color="#ff0000", lw=3.8, ax=ax, zorder=4)

# precipitation on the right-hand (mm) scale
ax2 = ax.twinx()
ax2.set_ylim(ylo + 45, yhi + 45)
p_hours = hours[1:]
prec_series = [[d.get(i, 0.0) for i in range(1, 65)] for d in precip_perts]
dfp = long_form(prec_series, p_hours)
sns.lineplot(data=dfp, x="hour", y="value", hue="member", palette=pert_colors, ax=ax2, zorder=2, **line_kw)
sns.lineplot(x=p_hours, y=[precip_ctrl.get(i, 0.0) for i in range(1, 65)], color="#0000ff", lw=2.4, ax=ax2, zorder=3)
sns.lineplot(x=p_hours, y=[precip_gfs.get(i, 0.0) for i in range(1, 65)], color="#000000", lw=2.4, ax=ax2, zorder=3)
sns.lineplot(x=p_hours, y=precip_mean, color="#ff0000", lw=3.8, ax=ax2, zorder=4)

for a in (ax, ax2):
    for ln in a.get_lines():
        ln.set_markeredgecolor(ln.get_color())

# axes, ticks
left_ticks = list(range(-45, 31, 5))
ax.set_yticks(left_ticks)
ax.set_yticklabels([str(t) for t in left_ticks])
ax2.set_yticks(list(range(0, 76, 5)))
ax2.set_yticklabels([str(t) for t in range(0, 76, 5)])
ax.set_xticks(day_hours)
ax.set_xticklabels(day_labels, rotation=90)
ax.tick_params(axis="y", length=0, pad=21.6, labelsize=7.2, colors="black")
ax2.tick_params(axis="y", length=0, pad=14.4, labelsize=7.2, colors="black")
ax.tick_params(axis="x", length=0, pad=1.5, labelsize=7.2, colors="black")
for lbl in ax.get_yticklabels():
    lbl.set_horizontalalignment("left")
shift = ScaledTranslation(5 / 100, 0, fig.dpi_scale_trans)
for lbl in ax.get_xticklabels():
    lbl.set_transform(lbl.get_transform() + shift)
for a in (ax, ax2):
    a.set_xlabel("")
    a.set_ylabel("")
    for side in ("top", "left", "right", "bottom"):
        a.spines[side].set_visible(False)
ax.spines["bottom"].set_visible(True)
ax.spines["bottom"].set_color("black")
ax.spines["bottom"].set_linewidth(1.0)
ax.set_xlim(0, 384)

# panel titles
ax.text(6, 30 - (67 - 22) / 7, "Temp. 850hPa", fontsize=7.2, va="center", ha="left", zorder=6)
ax.text(6, -(269 - 232) / 7, "Temp. 500hPa", fontsize=7.2, va="center", ha="left", zorder=6)
ax.text(6, -(499 - 232) / 7, "Précipitations", fontsize=7.2, va="center", ha="left", zorder=6)


def fx(x):
    return x / W


def fy(y):
    return 1 - y / H


fig.text(fx(22), fy(607), "(°c)", fontsize=7.2, va="center", ha="left")
fig.text(fx(709), fy(607), "(mm)", fontsize=7.2, va="center", ha="left")
fig.text(fx(10), fy(623), "Alt. 547m", fontsize=7.2, va="center", ha="left")

# legend
fig.add_artist(Line2D([fx(35), fx(65)], [fy(637), fy(637)], color="#ff0000", lw=3.0, transform=fig.transFigure))
fig.text(fx(75), fy(637), "Moyenne des scénarios", fontsize=7.2, va="center", ha="left")
fig.add_artist(Line2D([fx(225), fx(255)], [fy(637), fy(637)], color="#0000ff", lw=3.0, transform=fig.transFigure))
fig.text(fx(265), fy(637), "Run de contrôle", fontsize=7.2, va="center", ha="left")
fig.add_artist(Line2D([fx(225), fx(255)], [fy(647), fy(647)], color="#000000", lw=3.0, transform=fig.transFigure))
fig.text(fx(265), fy(647), "Run GFS", fontsize=7.2, va="center", ha="left")
fig.text(fx(60), fy(658), "\u2744", fontsize=8, va="center", ha="center", color="#5aa8e6", family=["DejaVu Sans"])
fig.text(fx(75), fy(659), "Risque neige", fontsize=7.2, va="center", ha="left")
fig.text(fx(340), fy(653), "30 Perts.", fontsize=7.2, va="center", ha="left")

for k, (nm, c) in enumerate(zip(pert_names, pert_colors)):
    x0 = 400 + k * 10.93
    fig.add_artist(Rectangle((fx(x0), fy(655.5)), 10 / W, 5.5 / H, facecolor=c, edgecolor="none",
                             transform=fig.transFigure))
    fig.text(fx(x0 + 5), fy(644), nm, fontsize=5.0, va="center", ha="center", weight="bold")

# info boxes
fig.add_artist(Rectangle((fx(20), fy(699)), 420 / W, 30 / H, facecolor="white", edgecolor="black", lw=1.0,
                         transform=fig.transFigure))
fig.text(fx(30), fy(677), "Diagramme des ensembles GEFS sur 384h : 38.8N 0.6W", fontsize=8.0,
         weight="bold", va="center", ha="left")
fig.text(fx(30), fy(691.5), "Températures 850hPa et 500hPa (°C) , précipitations (mm)", fontsize=7.2,
         va="center", ha="left")
fig.text(fx(450), fy(676), "Ensemble GEFS du 23/08/2026 - 00Z", fontsize=7.2, va="center", ha="left")
fig.text(fx(450), fy(692), "Copyright 2026 Meteociel.fr", fontsize=8.0, weight="bold", va="center", ha="left")

fig.savefig("out.png", dpi=100, facecolor="white")
